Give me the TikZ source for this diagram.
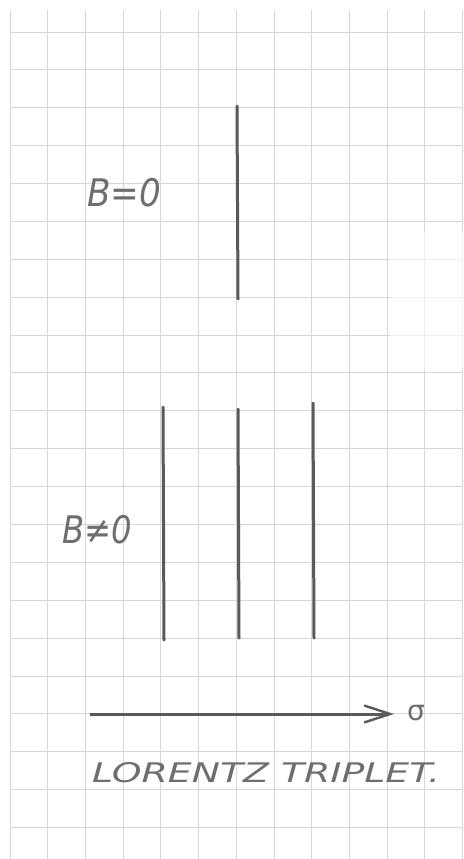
\documentclass[tikz,border=0pt]{standalone}
\usepackage{fontspec}
\newfontfamily\handfont{DejaVu Sans}
\usetikzlibrary{arrows.meta}
\definecolor{gridc}{HTML}{D6D6D6}
\definecolor{pencil}{HTML}{5A5A5A}
\definecolor{txt}{HTML}{6E6E6E}
\tikzset{
  gridline/.style={draw=gridc, line width=0.9pt},
  specline/.style={draw=pencil, line width=3pt, line cap=round},
  hand/.style={text=txt, inner sep=0pt},
  axisline/.style={draw=pencil, line width=3pt, -{Straight Barb[length=26pt,width=17pt,line width=2.4pt]}}
}
\begin{document}
\begin{tikzpicture}[x=1pt,y=-1pt]
\useasboundingbox (0,0) rectangle (463,859);
\fill[white] (0,0) rectangle (463,859);
% grid
\foreach \k in {0,...,12} {
  \draw[gridline] ({10+37.72*\k},10) -- ({10+37.72*\k},859);
}
\foreach \k in {0,...,21} {
  \draw[gridline] (10,{32+37.88*\k}) -- (463,{32+37.88*\k});
}
% faded patch at right
\fill[white, opacity=0.6] (390,232) rectangle (463,370);
% B = 0 line
\coordinate (c0t) at (237,106);
\coordinate (c0b) at (238,299);
\draw[specline] (c0t) -- (c0b);
% B != 0 lines
\coordinate (l1t) at (163,407);
\coordinate (l1b) at (164,640);
\coordinate (l2t) at (238,409);
\coordinate (l2b) at (239,638);
\coordinate (l3t) at (313,403);
\coordinate (l3b) at (314,638);
\draw[specline] (l1t) -- (l1b);
\draw[specline] (l2t) -- (l2b);
\draw[specline] (l3t) -- (l3b);
% labels
\node[hand, xscale=0.9, font=\handfont\itshape\fontsize{38}{38}\selectfont] (lab0) at (124,193) {B=0};
\node[hand, xscale=0.85, font=\handfont\itshape\fontsize{38}{38}\selectfont] (lab1) at (97,530) {B≠0};
% axis
\coordinate (ax0) at (90,714);
\coordinate (ax1) at (394,714);
\draw[axisline] (ax0) -- (ax1);
\node[hand, font=\handfont\fontsize{28}{28}\selectfont] (sig) at (416,713) {σ};
% caption
\node[hand, xscale=1.4, font=\handfont\itshape\fontsize{27}{27}\selectfont] (cap) at (266,773) {LORENTZ TRIPLET.};
\end{tikzpicture}
\end{document}
